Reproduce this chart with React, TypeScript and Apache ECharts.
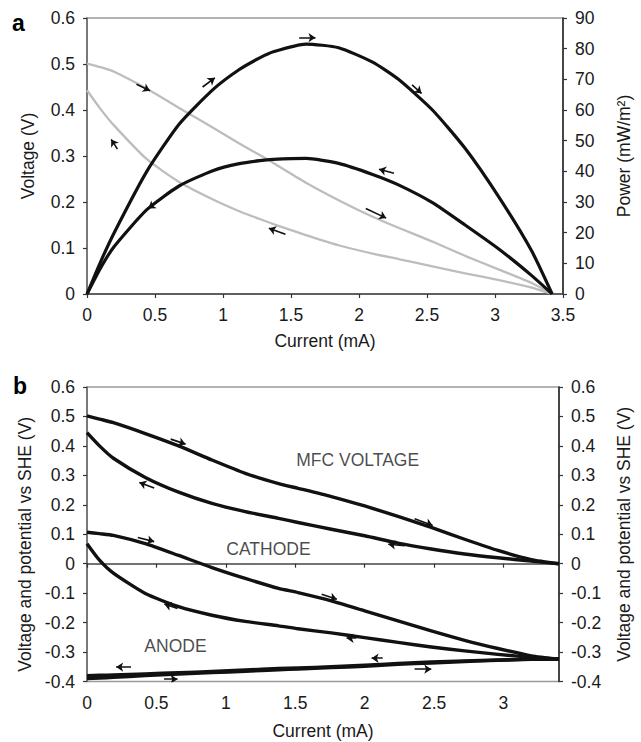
import React, { useEffect, useRef } from "react";
import * as echarts from "echarts";

// ---- Panel a: current (mA) grid, voltage (V) and power (mW/m²)
const currentA = [0, 0.1, 0.2, 0.44, 0.68, 0.93, 1.12, 1.27, 1.37, 1.61, 1.85, 2.1, 2.29, 2.54, 2.78, 3.03, 3.27, 3.42];
const voltageFwd = [0.501, 0.493, 0.483, 0.446, 0.404, 0.361, 0.327, 0.302, 0.285, 0.242, 0.204, 0.168, 0.144, 0.114, 0.083, 0.053, 0.024, 0];
const voltageBwd = [0.443, 0.402, 0.366, 0.293, 0.243, 0.205, 0.18, 0.163, 0.152, 0.128, 0.106, 0.088, 0.076, 0.06, 0.045, 0.03, 0.014, 0];
const powerFwd = [0, 10.5, 20, 40, 55.5, 66.8, 73.2, 77, 79, 81.5, 80.3, 75.6, 70, 60, 47.5, 31.5, 14, 0];
const powerBwd = [0, 8.5, 15.5, 27.5, 35.3, 40.3, 42.5, 43.5, 43.9, 44.2, 42.6, 39, 35.6, 29.8, 22.5, 14.6, 6.0, 0];
// arrows: [x1, y1, x2, y2]
const arrowsPowerA = [
  [1.56, 83.6, 1.68, 83.6],
  [0.85, 67.5, 0.94, 70.5],
  [0.561, 31.4, 0.451, 27.9],
  [2.39, 68.2, 2.46, 65.4],
  [2.257, 39.4, 2.147, 40.7],
];
const arrowsVoltageA = [
  [0.364, 0.456, 0.463, 0.442],
  [0.224, 0.315, 0.178, 0.336],
  [1.459, 0.13, 1.337, 0.143],
  [2.05, 0.186, 2.2, 0.165],
];

// ---- Panel b
const currentB = [0, 0.09, 0.19, 0.42, 0.66, 0.9, 1.14, 1.38, 1.52, 1.76, 2.0, 2.24, 2.48, 2.72, 2.96, 3.2, 3.4];
const mfcFwd = [0.502, 0.491, 0.479, 0.442, 0.4, 0.352, 0.307, 0.272, 0.256, 0.228, 0.196, 0.161, 0.123, 0.083, 0.045, 0.014, 0.0];
const mfcBwd = [0.445, 0.4, 0.358, 0.293, 0.243, 0.205, 0.177, 0.154, 0.14, 0.117, 0.095, 0.07, 0.05, 0.033, 0.02, 0.009, 0.0];
const cathodeFwd = [0.107, 0.102, 0.096, 0.068, 0.028, -0.013, -0.05, -0.084, -0.098, -0.126, -0.16, -0.194, -0.228, -0.26, -0.288, -0.313, -0.324];
const cathodeBwd = [0.068, 0.012, -0.032, -0.101, -0.146, -0.175, -0.196, -0.211, -0.221, -0.235, -0.251, -0.267, -0.283, -0.296, -0.308, -0.318, -0.324];
const anodeFwd = [-0.39, -0.388, -0.386, -0.38, -0.375, -0.37, -0.365, -0.36, -0.358, -0.353, -0.348, -0.342, -0.337, -0.332, -0.328, -0.325, -0.324];
const anodeBwd = [-0.38, -0.379, -0.378, -0.374, -0.37, -0.366, -0.361, -0.356, -0.354, -0.35, -0.345, -0.339, -0.334, -0.33, -0.327, -0.324, -0.324];
const arrowsB = [
  [0.603, 0.423, 0.71, 0.406],
  [0.484, 0.257, 0.377, 0.276],
  [0.366, 0.089, 0.484, 0.075],
  [0.652, -0.152, 0.557, -0.137],
  [0.317, -0.351, 0.21, -0.351],
  [0.555, -0.392, 0.652, -0.392],
  [2.36, 0.153, 2.49, 0.13],
  [2.29, 0.061, 2.17, 0.066],
  [1.69, -0.104, 1.8, -0.121],
  [1.94, -0.253, 1.87, -0.253],
  [2.13, -0.321, 2.05, -0.321],
  [2.36, -0.358, 2.48, -0.358],
];
const labelsB = [
  { name: "MFC VOLTAGE", value: [1.95, 0.353] },
  { name: "CATHODE", value: [1.307, 0.051] },
  { name: "ANODE", value: [0.637, -0.279] },
];

const FONT = "Liberation Sans, Arial, Helvetica, sans-serif";
const TXT = "#1a1a1a";
const FS = 17.5;

const zip = (xs: number[], ys: number[]) => xs.map((x, i) => [x, ys[i]]);
const arrowData = (arr: number[][]) => arr.map((a) => ({ coords: [[a[0], a[1]], [a[2], a[3]]] }));

function axisBase(lineColor: string) {
  return {
    type: "value" as const,
    splitLine: { show: false },
    axisLine: { show: true, lineStyle: { color: lineColor, width: 1.5 } },
    axisTick: { show: true, inside: false, length: 4, lineStyle: { color: "#333", width: 1.2 } },
    axisLabel: { color: TXT, fontSize: FS, fontFamily: FONT, margin: 12 },
    nameTextStyle: { color: TXT, fontSize: FS, fontFamily: FONT },
    nameLocation: "middle" as const,
  };
}

export default function App() {
  const ref = useRef<HTMLDivElement>(null);
  useEffect(() => {
    document.body.style.margin = "0";
    const chart = echarts.init(ref.current!, undefined, { renderer: "svg" });
    const arrowSeries = (xi: number, yi: number, arr: number[][]) => ({
      type: "lines",
      coordinateSystem: "cartesian2d",
      xAxisIndex: xi,
      yAxisIndex: yi,
      symbol: ["none", "arrow"],
      symbolSize: 7,
      silent: true,
      z: 5,
      lineStyle: { color: "#111", width: 1.6, opacity: 1, curveness: 0 },
      data: arrowData(arr),
    });
    const lineSeries = (xi: number, yi: number, data: number[][], color: string, width: number) => ({
      type: "line",
      xAxisIndex: xi,
      yAxisIndex: yi,
      data,
      showSymbol: false,
      symbol: "none",
      smooth: 0.2,
      silent: true,
      lineStyle: { color, width, join: "round" },
    });
    chart.setOption({
      animation: false,
      backgroundColor: "#ffffff",
      textStyle: { fontFamily: FONT },
      grid: [
        { left: 87, top: 18, width: 478, height: 276, show: true, borderColor: "#9a9a9a", borderWidth: 1.5, backgroundColor: "transparent" },
        { left: 87, top: 387, width: 476, height: 294.5, show: true, borderColor: "#9a9a9a", borderWidth: 1.5, backgroundColor: "transparent" },
      ],
      xAxis: [
        { ...axisBase("#444"), gridIndex: 0, min: 0, max: 3.5, interval: 0.5, name: "Current (mA)", nameGap: 38 },
        {
          ...axisBase("#444"),
          gridIndex: 1,
          min: 0,
          max: 3.4,
          interval: 0.5,
          name: "Current (mA)",
          nameGap: 40,
          axisLabel: { color: TXT, fontSize: FS, fontFamily: FONT, margin: 12, showMaxLabel: false },
        },
      ],
      yAxis: [
        { ...axisBase("#666"), gridIndex: 0, position: "left", min: 0, max: 0.6, interval: 0.1, name: "Voltage (V)", nameGap: 50 },
        { ...axisBase("#222"), gridIndex: 0, position: "right", min: 0, max: 90, interval: 10, name: "Power (mW/m²)", nameGap: 52 },
        {
          ...axisBase("#666"),
          gridIndex: 1,
          position: "left",
          min: -0.4,
          max: 0.6,
          interval: 0.1,
          name: "Voltage and potential vs SHE (V)",
          nameGap: 50,
          nameTextStyle: { color: TXT, fontSize: FS, fontFamily: FONT, padding: [0, 20, 0, 0] },
        },
        {
          ...axisBase("#222"),
          gridIndex: 1,
          position: "right",
          min: -0.4,
          max: 0.6,
          interval: 0.1,
          name: "Voltage and potential vs SHE (V)",
          nameGap: 56,
        },
      ],
      series: [
        lineSeries(0, 0, zip(currentA, voltageFwd), "#bdbdbd", 2.3),
        lineSeries(0, 0, zip(currentA, voltageBwd), "#bdbdbd", 2.3),
        lineSeries(0, 1, zip(currentA, powerFwd), "#111111", 3.2),
        lineSeries(0, 1, zip(currentA, powerBwd), "#111111", 3.2),
        arrowSeries(0, 1, arrowsPowerA),
        arrowSeries(0, 0, arrowsVoltageA),
        lineSeries(1, 2, zip(currentB, mfcFwd), "#111111", 3.4),
        lineSeries(1, 2, zip(currentB, mfcBwd), "#111111", 3.4),
        lineSeries(1, 2, zip(currentB, cathodeFwd), "#111111", 3.4),
        lineSeries(1, 2, zip(currentB, cathodeBwd), "#111111", 3.4),
        lineSeries(1, 2, zip(currentB, anodeFwd), "#111111", 3.4),
        lineSeries(1, 2, zip(currentB, anodeBwd), "#111111", 3.4),
        arrowSeries(1, 2, arrowsB),
        {
          type: "scatter",
          xAxisIndex: 1,
          yAxisIndex: 2,
          symbolSize: 0,
          silent: true,
          data: labelsB,
          label: { show: true, position: "inside", formatter: "{b}", color: TXT, fontSize: FS, fontFamily: FONT },
        },
      ],
      graphic: [
        { type: "text", left: 12, top: 11, style: { text: "a", font: "bold 23px " + FONT, fill: "#000" } },
        { type: "text", left: 13, top: 374, style: { text: "b", font: "bold 23px " + FONT, fill: "#000" } },
      ],
    });
    return () => chart.dispose();
  }, []);
  return <div ref={ref} style={{ width: 641, height: 742 }} />;
}
